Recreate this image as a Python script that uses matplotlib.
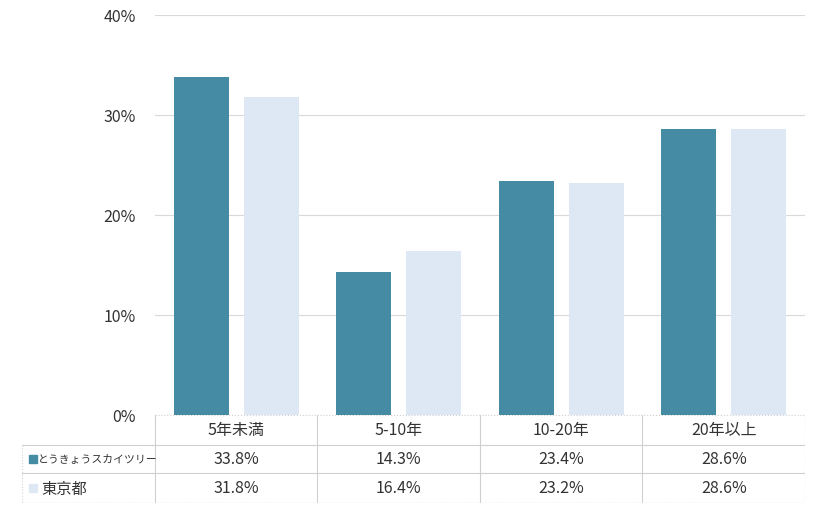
import matplotlib
matplotlib.use('Agg')
import matplotlib.pyplot as plt
import numpy as np

plt.rcParams['font.family'] = ['Noto Sans CJK JP', 'DejaVu Sans']

# data
categories = ['5年未満', '5-10年', '10-20年', '20年以上']
series_names = ['とうきょうスカイツリー', '東京都']
skytree = [33.8, 14.3, 23.4, 28.6]
tokyo = [31.8, 16.4, 23.2, 28.6]
colors = ['#458ba4', '#dde8f4']

fig = plt.figure(figsize=(8.2, 5.1), dpi=100)
W, H = 820, 510

def fig_rect(x0, y0, x1, y1):
    return [x0 / W, 1 - y1 / H, (x1 - x0) / W, (y1 - y0) / H]

ax = fig.add_axes(fig_rect(155, 16, 805, 416))
x = np.arange(len(categories))
ax.bar(x - 0.215, skytree, width=0.34, color=colors[0], zorder=3)
ax.bar(x + 0.215, tokyo, width=0.34, color=colors[1], zorder=3)
ax.set_xlim(-0.5, len(categories) - 0.5)
ax.set_ylim(0, 40)
ax.set_yticks([0, 10, 20, 30, 40])
ax.set_yticklabels([f'{v}%' for v in [0, 10, 20, 30, 40]], fontsize=11.5, color='#333333')
ax.tick_params(axis='y', length=0, pad=14)
ax.set_xticks([])
ax.grid(axis='y', color='#d9d9d9', linewidth=0.8, zorder=0)
for s in ax.spines.values():
    s.set_visible(False)

# table below the plot
tax = fig.add_axes(fig_rect(22, 416, 805, 504))
tax.set_xlim(22, 805)
tax.set_ylim(504, 416)
tax.axis('off')
col_edges = [155 + 162.5 * i for i in range(len(categories) + 1)]
row_edges = [416, 446, 474, 504]
lc = '#d0d0d0'
tax.plot([155, 805], [416, 416], color=lc, lw=0.8, ls=':')
for xe in col_edges:
    tax.plot([xe, xe], [416, 504], color=lc, lw=0.8)
for ye in row_edges[1:]:
    tax.plot([22, 805], [ye, ye], color=lc, lw=0.8)
tax.plot([22, 22], [446, 504], color=lc, lw=0.8, ls=':')
tax.plot([22, 805], [504, 504], color=lc, lw=0.8, ls=':')
tax.plot([805, 805], [416, 504], color=lc, lw=0.8, ls=':')

for i, cat in enumerate(categories):
    cx = (col_edges[i] + col_edges[i + 1]) / 2
    tax.text(cx, 431, cat, ha='center', va='center', fontsize=11.5, color='#333333')
label_sizes = [7.8, 11]
for r, (name, vals) in enumerate(zip(series_names, [skytree, tokyo])):
    cy = (row_edges[r + 1] + row_edges[r + 2]) / 2
    tax.add_patch(plt.Rectangle((29, cy - 4.5), 8, 8, color=colors[r]))
    tax.text(38 if r == 0 else 41, cy, name, ha='left', va='center',
             fontsize=label_sizes[r], color='#333333')
    for i, v in enumerate(vals):
        cx = (col_edges[i] + col_edges[i + 1]) / 2
        tax.text(cx, cy, f'{v:.1f}%', ha='center', va='center', fontsize=11.5, color='#333333')

fig.savefig('out.png', dpi=100)
